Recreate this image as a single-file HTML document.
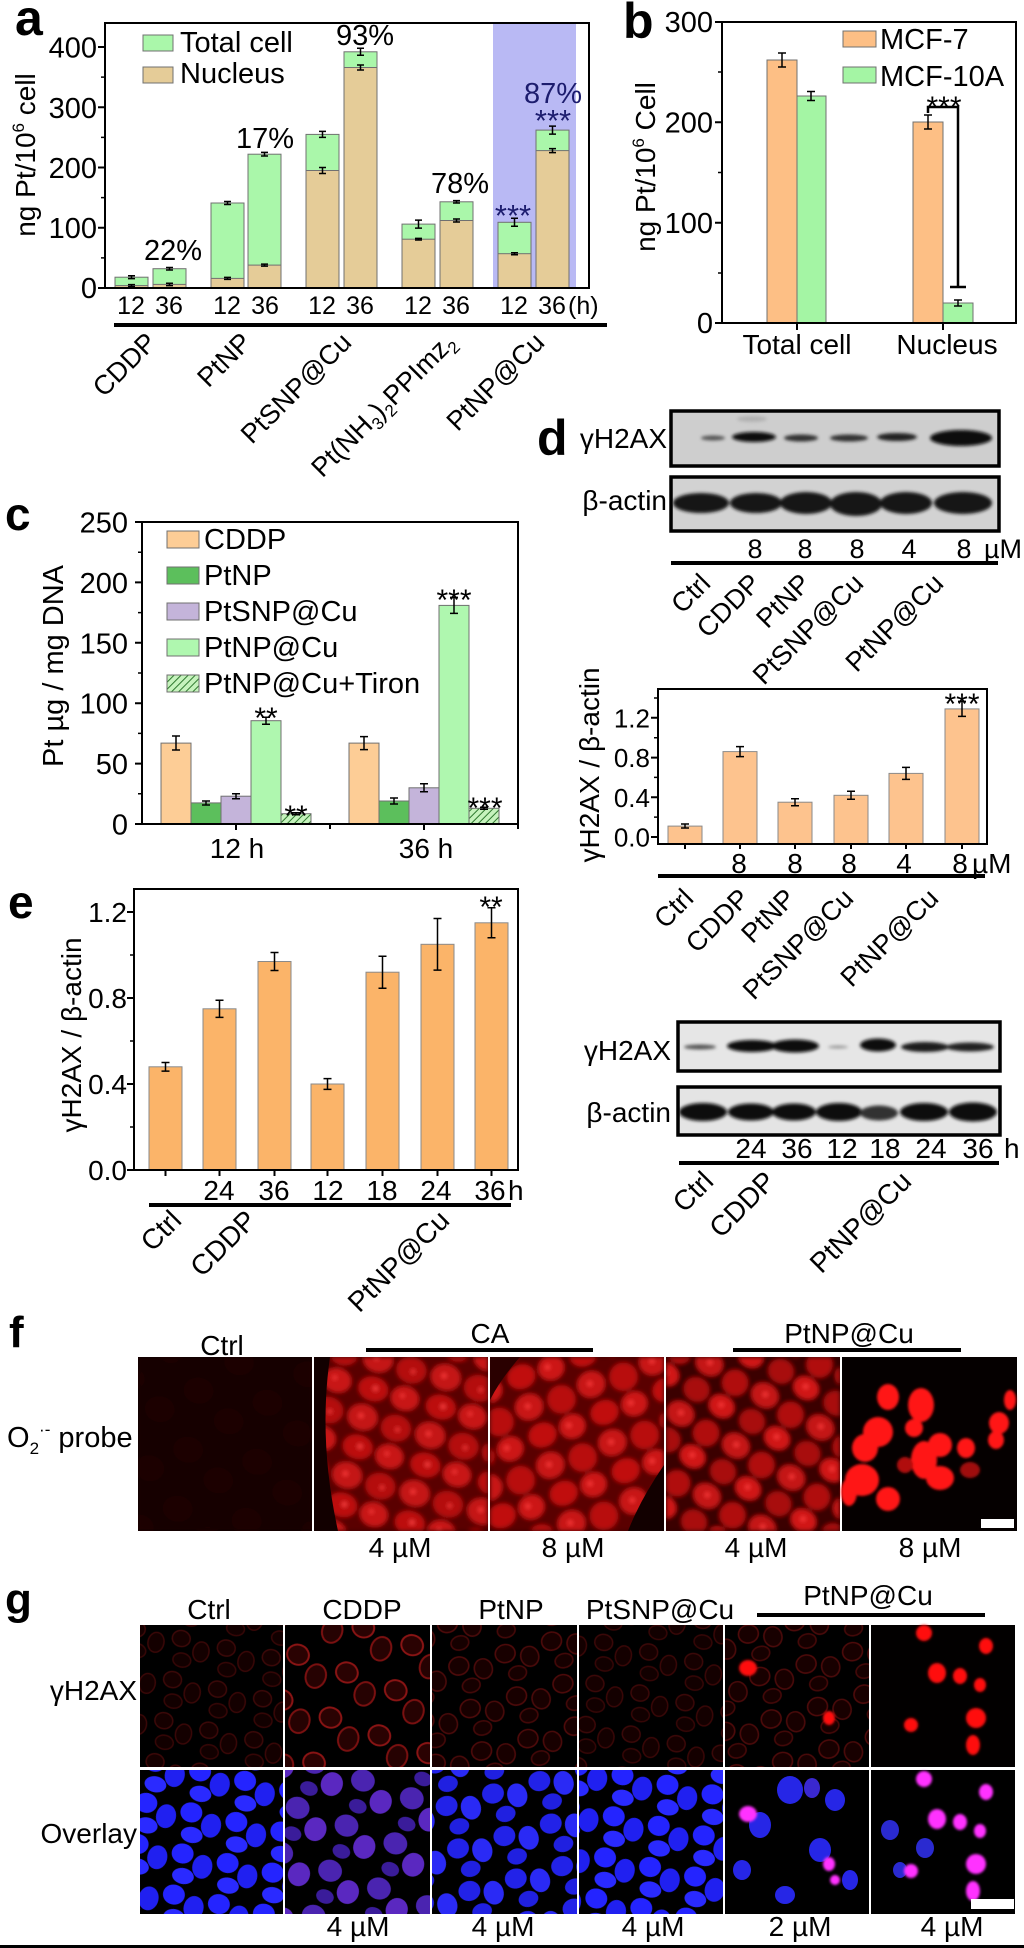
<!DOCTYPE html>
<html><head><meta charset="utf-8"><style>
html,body{margin:0;padding:0;background:#fff;}
svg{display:block;}
text{font-family:"Liberation Sans",Arial,sans-serif;fill:#000;}
</style></head><body>
<svg width="1024" height="1948" viewBox="0 0 1024 1948" xmlns="http://www.w3.org/2000/svg">
<defs>
<pattern id="hatch" patternUnits="userSpaceOnUse" width="5" height="5" patternTransform="rotate(45)">
<rect width="5" height="5" fill="#c6f3bd"/><line x1="0" y1="0" x2="0" y2="5" stroke="#2f7a2f" stroke-width="2"/></pattern>
<filter id="bl" x="-30%" y="-100%" width="160%" height="300%"><feGaussianBlur stdDeviation="1.6"/></filter>
<filter id="bl2"><feGaussianBlur stdDeviation="1.2"/></filter>
<filter id="bl3" x="0" y="0" width="1" height="1"><feGaussianBlur stdDeviation="2"/></filter>
<pattern id="cellA" patternUnits="userSpaceOnUse" width="70" height="60" patternTransform="rotate(15)">
<rect width="70" height="60" fill="#5a0303"/>
<ellipse cx="17" cy="15" rx="15" ry="13" fill="#c41313"/><ellipse cx="52" cy="17" rx="15" ry="13" fill="#b41010"/>
<ellipse cx="20" cy="45" rx="15" ry="12" fill="#bc1111"/><ellipse cx="53" cy="46" rx="14" ry="12" fill="#c81414"/>
<circle cx="15" cy="14" r="2.5" fill="#ff3a3a"/><circle cx="54" cy="18" r="2" fill="#ff3a3a"/><circle cx="22" cy="44" r="2.5" fill="#ff4040"/><circle cx="50" cy="44" r="2" fill="#ff3a3a"/></pattern>
<pattern id="cellA2" patternUnits="userSpaceOnUse" width="66" height="62" patternTransform="rotate(-20)">
<rect width="66" height="62" fill="#5a0303"/>
<ellipse cx="16" cy="15" rx="14" ry="13" fill="#c81313"/><ellipse cx="49" cy="19" rx="14" ry="14" fill="#b81010"/>
<ellipse cx="19" cy="46" rx="14" ry="12" fill="#c01111"/><ellipse cx="50" cy="48" rx="13" ry="12" fill="#cc1414"/>
<circle cx="15" cy="14" r="2.5" fill="#ff3a3a"/><circle cx="47" cy="46" r="2.5" fill="#ff3a3a"/></pattern>
<pattern id="cellB" patternUnits="userSpaceOnUse" width="64" height="58" patternTransform="rotate(30)">
<rect width="64" height="58" fill="#3a0000"/>
<ellipse cx="16" cy="14" rx="14" ry="12" fill="#c41212"/><ellipse cx="48" cy="18" rx="13" ry="13" fill="#b00e0e"/>
<ellipse cx="18" cy="43" rx="13" ry="12" fill="#a80d0d"/><ellipse cx="48" cy="45" rx="13" ry="11" fill="#d01616"/>
<circle cx="16" cy="13" r="2.5" fill="#ff3a3a"/><circle cx="47" cy="44" r="2.5" fill="#ff3a3a"/></pattern>
<pattern id="cellC" patternUnits="userSpaceOnUse" width="70" height="60" patternTransform="rotate(10)">
<rect width="70" height="60" fill="#120101"/>
<ellipse cx="17" cy="15" rx="15" ry="13" fill="#1e0303"/><ellipse cx="52" cy="40" rx="15" ry="13" fill="#1c0303"/></pattern>
<pattern id="nucB" patternUnits="userSpaceOnUse" width="46" height="42" patternTransform="rotate(12)">
<rect width="46" height="42" fill="#000"/>
<ellipse cx="12" cy="11" rx="11" ry="10" fill="#2424ff"/><ellipse cx="34" cy="20" rx="10" ry="12" fill="#2020f0"/><ellipse cx="17" cy="33" rx="11" ry="8" fill="#2a2aff"/></pattern>
<pattern id="nucB2" patternUnits="userSpaceOnUse" width="48" height="44" patternTransform="rotate(-15)">
<rect width="48" height="44" fill="#000"/>
<ellipse cx="12" cy="12" rx="11" ry="10" fill="#2222e8"/><ellipse cx="35" cy="20" rx="10" ry="12" fill="#2a2af5"/><ellipse cx="19" cy="35" rx="10" ry="8" fill="#2020e0"/></pattern>
<pattern id="nucP" patternUnits="userSpaceOnUse" width="52" height="48" patternTransform="rotate(20)">
<rect width="52" height="48" fill="#000"/>
<ellipse cx="14" cy="13" rx="12" ry="11" fill="#4a24b0"/><ellipse cx="38" cy="27" rx="11" ry="12" fill="#5a28c0"/><ellipse cx="18" cy="39" rx="9" ry="7" fill="#3a1c9a"/></pattern>
<pattern id="ringD" patternUnits="userSpaceOnUse" width="46" height="42" patternTransform="rotate(12)">
<rect width="46" height="42" fill="#000"/>
<ellipse cx="12" cy="11" rx="9" ry="8" fill="#160000" stroke="#3c0808" stroke-width="1.5"/><ellipse cx="34" cy="20" rx="8" ry="10" fill="#140000" stroke="#3a0707" stroke-width="1.5"/><ellipse cx="17" cy="32" rx="9" ry="7" fill="#120000" stroke="#360606" stroke-width="1.5"/></pattern>
<pattern id="ringM" patternUnits="userSpaceOnUse" width="52" height="48" patternTransform="rotate(20)">
<rect width="52" height="48" fill="#000"/>
<ellipse cx="14" cy="13" rx="11" ry="10" fill="#2a0202" stroke="#8a1414" stroke-width="2"/><ellipse cx="38" cy="27" rx="10" ry="12" fill="#260202" stroke="#7a1010" stroke-width="2"/></pattern>
<pattern id="ringP" patternUnits="userSpaceOnUse" width="48" height="44" patternTransform="rotate(-15)">
<rect width="48" height="44" fill="#000"/>
<ellipse cx="12" cy="12" rx="10" ry="9" fill="#180000" stroke="#4e0a0a" stroke-width="1.6"/><ellipse cx="35" cy="21" rx="9" ry="10" fill="#180000" stroke="#4a0a0a" stroke-width="1.6"/><ellipse cx="19" cy="34" rx="9" ry="7" fill="#160000" stroke="#440808" stroke-width="1.6"/></pattern>
</defs>
<rect width="1024" height="1948" fill="#fff"/>

<!-- ================= PANEL A ================= -->
<rect x="493" y="23" width="83" height="265" fill="#b9b9f4"/>
<g stroke="#707070" stroke-width="1">
<rect x="115" y="277.2" width="33" height="10.8" fill="#aaf7aa"/><rect x="115" y="285.6" width="33" height="2.4" fill="#e5cc98"/>
<rect x="153" y="268.7" width="33" height="19.3" fill="#aaf7aa"/><rect x="153" y="284.4" width="33" height="3.6" fill="#e5cc98"/>
<rect x="211" y="203" width="33" height="85" fill="#aaf7aa"/><rect x="211" y="278.4" width="33" height="9.6" fill="#e5cc98"/>
<rect x="248" y="154.2" width="33" height="133.8" fill="#aaf7aa"/><rect x="248" y="265.1" width="33" height="22.9" fill="#e5cc98"/>
<rect x="306" y="134.4" width="33" height="153.6" fill="#aaf7aa"/><rect x="306" y="170.5" width="33" height="117.5" fill="#e5cc98"/>
<rect x="344" y="51.8" width="33" height="236.2" fill="#aaf7aa"/><rect x="344" y="67.5" width="33" height="220.5" fill="#e5cc98"/>
<rect x="402" y="224.1" width="33" height="63.9" fill="#aaf7aa"/><rect x="402" y="239.2" width="33" height="48.8" fill="#e5cc98"/>
<rect x="440" y="201.8" width="33" height="86.2" fill="#aaf7aa"/><rect x="440" y="220.5" width="33" height="67.5" fill="#e5cc98"/>
<rect x="498" y="222.3" width="33" height="65.7" fill="#aaf7aa"/><rect x="498" y="253.7" width="33" height="34.3" fill="#e5cc98"/>
<rect x="536" y="130.1" width="33" height="157.9" fill="#aaf7aa"/><rect x="536" y="150.6" width="33" height="137.4" fill="#e5cc98"/>
</g>
<g stroke="#000" stroke-width="1.5" fill="none">
<path d="M128 275.8H135M131.5 275.8V278.6M128 278.6H135 M128 284.6H135M131.5 284.6V286.6M128 286.6H135"/>
<path d="M166 267.5H173M169.5 267.5V270M166 270H173 M166 283.2H173M169.5 283.2V285.6M166 285.6H173"/>
<path d="M224 201.5H231M227.5 201.5V204.5M224 204.5H231 M224 277.4H231M227.5 277.4V279.4M224 279.4H231"/>
<path d="M261 152.4H268M264.5 152.4V156M261 156H268 M261 264.1H268M264.5 264.1V266.1M261 266.1H268"/>
<path d="M319 131.4H326M322.5 131.4V137.4M319 137.4H326 M319 167.5H326M322.5 167.5V173.5M319 173.5H326"/>
<path d="M357 48.3H364M360.5 48.3V55.3M357 55.3H364 M357 65H364M360.5 65V70M357 70H364"/>
<path d="M415 220.1H422M418.5 220.1V228.1M415 228.1H422 M415 238.4H422M418.5 238.4V240M415 240H422"/>
<path d="M453 200.6H460M456.5 200.6V203M453 203H460 M453 219H460M456.5 219V222M453 222H460"/>
<path d="M511 218.3H518M514.5 218.3V226.3M511 226.3H518 M511 252.7H518M514.5 252.7V254.7M511 254.7H518"/>
<path d="M549 126.1H556M552.5 126.1V134.1M549 134.1H556 M549 148.6H556M552.5 148.6V152.6M549 152.6H556"/>
</g>
<rect x="105" y="23" width="484" height="265" fill="none" stroke="#000" stroke-width="2"/>
<g stroke="#000" stroke-width="2">
<path d="M98 47H105M98 107.25H105M98 167.5H105M98 227.75H105M98 288H105"/>
<path d="M101 77.1H105M101 137.4H105M101 197.6H105M101 257.9H105" stroke-width="1.5"/>
</g>
<g font-size="29" text-anchor="end">
<text x="97" y="57.5">400</text><text x="97" y="118">300</text><text x="97" y="178">200</text><text x="97" y="238">100</text><text x="97" y="298">0</text>
</g>
<text x="15" y="35" font-size="50" font-weight="bold">a</text>
<text transform="translate(35,155) rotate(-90)" text-anchor="middle" font-size="28">ng Pt/10<tspan font-size="17" dy="-11">6</tspan><tspan dy="11"> cell</tspan></text>
<rect x="143" y="35" width="30" height="16" fill="#aaf7aa" stroke="#707070"/>
<rect x="143" y="67" width="30" height="16" fill="#e5cc98" stroke="#707070"/>
<text x="180" y="52" font-size="29">Total cell</text>
<text x="180" y="83" font-size="29">Nucleus</text>
<g font-size="29" text-anchor="middle">
<text x="173" y="260">22%</text><text x="265" y="148">17%</text><text x="365" y="45">93%</text><text x="460" y="193">78%</text>
<text x="553" y="103" style="fill:#1c1c6e">87%</text>
</g>
<g font-size="31" text-anchor="middle">
<text x="553" y="131" style="fill:#1c1c6e">***</text>
<text x="513" y="226" style="fill:#1c1c6e">***</text>
</g>
<g font-size="25" text-anchor="middle">
<text x="131" y="314">12</text><text x="169" y="314">36</text>
<text x="227" y="314">12</text><text x="265" y="314">36</text>
<text x="322" y="314">12</text><text x="360" y="314">36</text>
<text x="418" y="314">12</text><text x="456" y="314">36</text>
<text x="514" y="314">12</text><text x="552" y="314">36</text>
</g>
<text x="568" y="314" font-size="25">(h)</text>
<rect x="114" y="323" width="493" height="4" fill="#000"/>
<g font-size="27" text-anchor="end">
<text transform="translate(158,344) rotate(-45)">CDDP</text>
<text transform="translate(253,344) rotate(-45)">PtNP</text>
<text transform="translate(353,344) rotate(-45)">PtSNP@Cu</text>
<text transform="translate(457,344) rotate(-45)">Pt(NH<tspan font-size="17" dy="6">3</tspan><tspan dy="-6">)</tspan><tspan font-size="17" dy="6">2</tspan><tspan dy="-6">PPImz</tspan><tspan font-size="17" dy="6">2</tspan></text>
<text transform="translate(546,344) rotate(-45)">PtNP@Cu</text>
</g>

<!-- ================= PANEL B ================= -->
<g stroke="#707070" stroke-width="1">
<rect x="767" y="60" width="30" height="263" fill="#fdbf85"/>
<rect x="797" y="96" width="29" height="227" fill="#a4f5a4"/>
<rect x="913" y="122" width="30" height="201" fill="#fdbf85"/>
<rect x="943" y="303" width="30" height="20" fill="#a4f5a4"/>
</g>
<g stroke="#000" stroke-width="1.5" fill="none">
<path d="M778 53H786M782 53V67M778 67H786"/>
<path d="M807 91.5H815M811 91.5V100.5M807 100.5H815"/>
<path d="M924 115H932M928 115V129M924 129H932"/>
<path d="M954 300H962M958 300V306M954 306H962"/>
</g>
<path d="M928 113V107H958V287M950 287H966" stroke="#000" stroke-width="2.5" fill="none"/>
<text x="944" y="117" font-size="30" text-anchor="middle">***</text>
<rect x="722" y="22" width="294" height="301" fill="none" stroke="#000" stroke-width="2"/>
<g stroke="#000" stroke-width="2">
<path d="M715 22H722M715 122.3H722M715 222.7H722M715 323H722"/>
<path d="M718 72H722M718 172.5H722M718 273H722" stroke-width="1.5"/>
<path d="M797 323V330M943 323V330"/>
</g>
<g font-size="29" text-anchor="end">
<text x="713" y="32">300</text><text x="713" y="132.5">200</text><text x="713" y="233">100</text><text x="713" y="333">0</text>
</g>
<text x="623" y="38" font-size="50" font-weight="bold">b</text>
<text transform="translate(655,167) rotate(-90)" text-anchor="middle" font-size="28">ng Pt/10<tspan font-size="17" dy="-11">6</tspan><tspan dy="11"> Cell</tspan></text>
<rect x="843" y="31" width="33" height="16" fill="#fdbf85" stroke="#707070"/>
<rect x="843" y="67" width="33" height="16" fill="#a4f5a4" stroke="#707070"/>
<text x="880" y="49" font-size="29">MCF-7</text>
<text x="880" y="86" font-size="29">MCF-10A</text>
<text x="797" y="354" font-size="28" text-anchor="middle">Total cell</text>
<text x="947" y="354" font-size="28" text-anchor="middle">Nucleus</text>

<!-- ================= PANEL C ================= -->
<g stroke="#707070" stroke-width="1">
<rect x="161" y="743.1" width="30" height="80.9" fill="#fdcd96"/>
<rect x="191" y="802.9" width="30" height="21.1" fill="#5cbf5c"/>
<rect x="221" y="796.2" width="30" height="27.8" fill="#c4b4da"/>
<rect x="251" y="720.7" width="30" height="103.3" fill="#aff7af"/>
<rect x="281" y="813.7" width="30" height="10.3" fill="url(#hatch)"/>
<rect x="349" y="743.1" width="30" height="80.9" fill="#fdcd96"/>
<rect x="379" y="801" width="30" height="23" fill="#5cbf5c"/>
<rect x="409" y="787.8" width="30" height="36.2" fill="#c4b4da"/>
<rect x="439" y="605.4" width="30" height="218.6" fill="#aff7af"/>
<rect x="469" y="808.3" width="30" height="15.7" fill="url(#hatch)"/>
</g>
<g stroke="#000" stroke-width="1.5" fill="none">
<path d="M172 736H180M176 736V750M172 750H180"/>
<path d="M202 801H210M206 801V805M202 805H210"/>
<path d="M232 793.7H240M236 793.7V798.7M232 798.7H240"/>
<path d="M262 717.2H270M266 717.2V724.2M262 724.2H270"/>
<path d="M292 812.7H300M296 812.7V814.7M292 814.7H300"/>
<path d="M360 736.6H368M364 736.6V749.6M360 749.6H368"/>
<path d="M390 798H398M394 798V804M390 804H398"/>
<path d="M420 783.8H428M424 783.8V791.8M420 791.8H428"/>
<path d="M450 597.4H458M454 597.4V613.4M450 613.4H458"/>
<path d="M480 807.3H488M484 807.3V809.3M480 809.3H488"/>
</g>
<g font-size="30" text-anchor="middle">
<text x="266" y="728">**</text><text x="296" y="826">**</text><text x="454" y="610">***</text><text x="485" y="818">***</text>
</g>
<rect x="142" y="522" width="376" height="302" fill="none" stroke="#000" stroke-width="2"/>
<g stroke="#000" stroke-width="2">
<path d="M135 522H142M135 582.4H142M135 642.8H142M135 703.2H142M135 763.6H142M135 824H142"/>
<path d="M138 552.2H142M138 612.6H142M138 673H142M138 733.4H142M138 793.8H142" stroke-width="1.5"/>
<path d="M236 824V830M330 824V829M424 824V830M518 824V829"/>
</g>
<g font-size="29" text-anchor="end">
<text x="128" y="532.5">250</text><text x="128" y="593">200</text><text x="128" y="653.5">150</text><text x="128" y="713.5">100</text><text x="128" y="774">50</text><text x="128" y="834.5">0</text>
</g>
<text x="5" y="530" font-size="46" font-weight="bold">c</text>
<text transform="translate(63,666) rotate(-90)" text-anchor="middle" font-size="29">Pt µg / mg DNA</text>
<rect x="167" y="531" width="32" height="17" fill="#fdcd96" stroke="#707070"/>
<rect x="167" y="567" width="32" height="17" fill="#5cbf5c" stroke="#707070"/>
<rect x="167" y="603" width="32" height="17" fill="#c4b4da" stroke="#707070"/>
<rect x="167" y="639" width="32" height="17" fill="#aff7af" stroke="#707070"/>
<rect x="167" y="675" width="32" height="17" fill="url(#hatch)" stroke="#707070"/>
<g font-size="29">
<text x="204" y="549">CDDP</text><text x="204" y="585">PtNP</text><text x="204" y="621">PtSNP@Cu</text><text x="204" y="657">PtNP@Cu</text><text x="204" y="693">PtNP@Cu+Tiron</text>
</g>
<g font-size="28" text-anchor="middle"><text x="237" y="858">12 h</text><text x="426" y="858">36 h</text></g>

<!-- ================= PANEL D BLOT ================= -->
<text x="537" y="455" font-size="50" font-weight="bold">d</text>
<text x="667" y="448" font-size="28" text-anchor="end">γH2AX</text>
<text x="667" y="510" font-size="28" text-anchor="end">β-actin</text>
<rect x="671" y="411" width="328" height="55" fill="#cecece" stroke="#000" stroke-width="3.5"/>
<g filter="url(#bl)">
<ellipse cx="752" cy="419" rx="15" ry="3" fill="#b2b2b2"/>
<ellipse cx="713" cy="438" rx="12" ry="2.5" fill="#555"/>
<ellipse cx="754" cy="437" rx="22" ry="5" fill="#111"/>
<ellipse cx="801" cy="438" rx="17" ry="3.5" fill="#333"/>
<ellipse cx="849" cy="438" rx="19" ry="3.5" fill="#333"/>
<ellipse cx="897" cy="437" rx="20" ry="4" fill="#222"/>
<ellipse cx="961" cy="438" rx="31" ry="8" fill="#080808"/>
</g>
<rect x="671" y="477" width="328" height="54" fill="#d2d2d2" stroke="#000" stroke-width="3.5"/>
<g filter="url(#bl)" fill="#141414">
<ellipse cx="701" cy="503" rx="28" ry="10"/><ellipse cx="756" cy="503" rx="26" ry="10"/><ellipse cx="806" cy="503" rx="26" ry="11"/>
<ellipse cx="856" cy="504" rx="26" ry="12"/><ellipse cx="906" cy="503" rx="26" ry="11"/><ellipse cx="963" cy="503" rx="29" ry="11"/>
</g>
<g font-size="27" text-anchor="middle">
<text x="755" y="558">8</text><text x="805" y="558">8</text><text x="857" y="558">8</text><text x="909" y="558">4</text><text x="964" y="558">8</text>
</g>
<text x="984" y="558" font-size="27">µM</text>
<rect x="671" y="561" width="327" height="4" fill="#000"/>
<g font-size="27" text-anchor="end">
<text transform="translate(712,585) rotate(-45)">Ctrl</text>
<text transform="translate(762,585) rotate(-45)">CDDP</text>
<text transform="translate(812,585) rotate(-45)">PtNP</text>
<text transform="translate(865,585) rotate(-45)">PtSNP@Cu</text>
<text transform="translate(945,585) rotate(-45)">PtNP@Cu</text>
</g>

<!-- ================= PANEL D BAR ================= -->
<g stroke="#8a8a8a" stroke-width="1" fill="#fdc38e">
<rect x="668" y="826.1" width="34" height="17.9"/>
<rect x="723" y="751.6" width="34" height="92.4"/>
<rect x="778" y="802.2" width="34" height="41.8"/>
<rect x="834" y="795.3" width="34" height="48.7"/>
<rect x="889" y="773.4" width="34" height="70.6"/>
<rect x="945" y="708.9" width="34" height="135.1"/>
</g>
<g stroke="#000" stroke-width="1.5" fill="none">
<path d="M681 824H689M685 824V828M681 828H689"/>
<path d="M736 746.6H744M740 746.6V756.6M736 756.6H744"/>
<path d="M791 798.7H799M795 798.7V805.7M791 805.7H799"/>
<path d="M847 791.3H855M851 791.3V799.3M847 799.3H855"/>
<path d="M902 767.4H910M906 767.4V779.4M902 779.4H910"/>
<path d="M958 701.4H966M962 701.4V716.4M958 716.4H966"/>
</g>
<text x="962" y="714" font-size="30" text-anchor="middle">***</text>
<rect x="658" y="689" width="329" height="155" fill="none" stroke="#000" stroke-width="2"/>
<g stroke="#000" stroke-width="2">
<path d="M651 837H658M651 797.3H658M651 757.6H658M651 717.8H658"/>
<path d="M654 817.1H658M654 777.4H658M654 737.7H658M654 698H658" stroke-width="1.5"/>
<path d="M685 844V849M740 844V849M795 844V849M851 844V849M906 844V849M962 844V849"/>
</g>
<g font-size="26" text-anchor="end">
<text x="650" y="846.5">0.0</text><text x="650" y="806.8">0.4</text><text x="650" y="767">0.8</text><text x="650" y="727.3">1.2</text>
</g>
<text transform="translate(599,765) rotate(-90)" text-anchor="middle" font-size="28">γH2AX / β-actin</text>
<g font-size="28" text-anchor="middle">
<text x="739" y="873">8</text><text x="795" y="873">8</text><text x="849" y="873">8</text><text x="904" y="873">4</text><text x="960" y="873">8</text>
</g>
<text x="972" y="873" font-size="28">µM</text>
<rect x="658" y="874" width="327" height="4" fill="#000"/>
<g font-size="27" text-anchor="end">
<text transform="translate(695,900) rotate(-45)">Ctrl</text>
<text transform="translate(751,900) rotate(-45)">CDDP</text>
<text transform="translate(797,900) rotate(-45)">PtNP</text>
<text transform="translate(855,900) rotate(-45)">PtSNP@Cu</text>
<text transform="translate(940,900) rotate(-45)">PtNP@Cu</text>
</g>

<!-- ================= PANEL E ================= -->
<g stroke="#8a8a8a" stroke-width="1" fill="#fbb469">
<rect x="149" y="1066.8" width="33" height="103.2"/>
<rect x="203" y="1008.8" width="33" height="161.2"/>
<rect x="258" y="961.5" width="33" height="208.5"/>
<rect x="311" y="1084" width="33" height="86"/>
<rect x="366" y="972.2" width="33" height="197.8"/>
<rect x="421" y="944.3" width="33" height="225.7"/>
<rect x="475" y="922.8" width="33" height="247.2"/>
</g>
<g stroke="#000" stroke-width="1.5" fill="none">
<path d="M161.5 1062.5H169.5M165.5 1062.5V1071.1M161.5 1071.1H169.5"/>
<path d="M215.5 1000.2H223.5M219.5 1000.2V1017.4M215.5 1017.4H223.5"/>
<path d="M270.5 952.5H278.5M274.5 952.5V970.5M270.5 970.5H278.5"/>
<path d="M323.5 1078.6H331.5M327.5 1078.6V1089.4M323.5 1089.4H331.5"/>
<path d="M378.5 956.2H386.5M382.5 956.2V988.2M378.5 988.2H386.5"/>
<path d="M433.5 918.5H441.5M437.5 918.5V970.1M433.5 970.1H441.5"/>
<path d="M487.5 907.8H495.5M491.5 907.8V937.8M487.5 937.8H495.5"/>
</g>
<text x="491" y="917" font-size="30" text-anchor="middle">**</text>
<rect x="134" y="889" width="384" height="281" fill="none" stroke="#000" stroke-width="2"/>
<g stroke="#000" stroke-width="2">
<path d="M127 1170H134M127 1084H134M127 998H134M127 912H134"/>
<path d="M130 1127H134M130 1041H134M130 955H134" stroke-width="1.5"/>
<path d="M165.5 1170V1176M219.5 1170V1176M274.5 1170V1176M327.5 1170V1176M382.5 1170V1176M437.5 1170V1176M491.5 1170V1176"/>
</g>
<g font-size="28" text-anchor="end">
<text x="127" y="1180">0.0</text><text x="127" y="1094">0.4</text><text x="127" y="1008">0.8</text><text x="127" y="922">1.2</text>
</g>
<text x="8" y="918" font-size="46" font-weight="bold">e</text>
<text transform="translate(81,1035) rotate(-90)" text-anchor="middle" font-size="28">γH2AX / β-actin</text>
<g font-size="28" text-anchor="middle">
<text x="219" y="1200">24</text><text x="274" y="1200">36</text><text x="328" y="1200">12</text><text x="382" y="1200">18</text><text x="436" y="1200">24</text><text x="490" y="1200">36</text>
</g>
<text x="508" y="1200" font-size="28">h</text>
<rect x="149" y="1203" width="362" height="4" fill="#000"/>
<g font-size="28" text-anchor="end">
<text transform="translate(183,1222) rotate(-45)">Ctrl</text>
<text transform="translate(258,1222) rotate(-45)">CDDP</text>
<text transform="translate(451,1222) rotate(-45)">PtNP@Cu</text>
</g>

<!-- ================= LOWER BLOT ================= -->
<text x="671" y="1060" font-size="28" text-anchor="end">γH2AX</text>
<text x="671" y="1122" font-size="28" text-anchor="end">β-actin</text>
<rect x="678" y="1022" width="322" height="49" fill="#e6e6e6" stroke="#000" stroke-width="3.5"/>
<g filter="url(#bl)">
<ellipse cx="700" cy="1047" rx="16" ry="2.5" fill="#555"/>
<ellipse cx="752" cy="1046" rx="25" ry="6" fill="#111"/>
<ellipse cx="795" cy="1046" rx="24" ry="6.5" fill="#0a0a0a"/>
<ellipse cx="838" cy="1047" rx="10" ry="1.5" fill="#999"/>
<ellipse cx="878" cy="1045" rx="18" ry="6.5" fill="#111"/>
<ellipse cx="925" cy="1047" rx="24" ry="5" fill="#1a1a1a"/>
<ellipse cx="970" cy="1047" rx="24" ry="4.5" fill="#222"/>
</g>
<rect x="678" y="1087" width="322" height="48" fill="#e4e4e4" stroke="#000" stroke-width="3.5"/>
<g filter="url(#bl)" fill="#111">
<ellipse cx="703" cy="1112" rx="24" ry="9"/><ellipse cx="751" cy="1112" rx="23" ry="8.5"/><ellipse cx="794" cy="1112" rx="22" ry="8.5"/>
<ellipse cx="839" cy="1112" rx="23" ry="9"/><ellipse cx="879" cy="1113" rx="19" ry="7.5" fill="#333"/><ellipse cx="924" cy="1112" rx="24" ry="9"/><ellipse cx="973" cy="1112" rx="24" ry="9.5"/>
</g>
<g font-size="28" text-anchor="middle">
<text x="751" y="1158">24</text><text x="797" y="1158">36</text><text x="842" y="1158">12</text><text x="885" y="1158">18</text><text x="931" y="1158">24</text><text x="978" y="1158">36</text>
</g>
<text x="1004" y="1158" font-size="28">h</text>
<rect x="679" y="1161" width="320" height="4" fill="#000"/>
<g font-size="28" text-anchor="end">
<text transform="translate(715,1183) rotate(-45)">Ctrl</text>
<text transform="translate(777,1183) rotate(-45)">CDDP</text>
<text transform="translate(913,1183) rotate(-45)">PtNP@Cu</text>
</g>

<!-- ================= PANEL F ================= -->
<text x="9" y="1347" font-size="44" font-weight="bold">f</text>
<g font-size="28" text-anchor="middle">
<text x="222" y="1355">Ctrl</text><text x="490" y="1343">CA</text><text x="849" y="1343">PtNP@Cu</text>
</g>
<rect x="366" y="1348" width="227" height="4" fill="#000"/>
<rect x="733" y="1348" width="228" height="4" fill="#000"/>
<text x="7" y="1447" font-size="29">O<tspan font-size="17" dy="7">2</tspan><tspan font-size="17" dy="-19">·-</tspan><tspan dy="12"> probe</tspan></text>
<rect x="138" y="1357" width="879" height="174" fill="#fff"/>
<rect x="138" y="1357" width="174" height="174" fill="#120101"/>
<rect x="138" y="1357" width="174" height="174" fill="url(#cellC)" filter="url(#bl3)"/>
<rect x="314" y="1357" width="174" height="174" fill="#3a0202"/>
<rect x="314" y="1357" width="174" height="174" fill="url(#cellA)" filter="url(#bl3)"/>
<path d="M314 1357H330Q318 1440 338 1531H314Z" fill="#120000"/>
<rect x="490" y="1357" width="174" height="174" fill="#3a0202"/>
<rect x="490" y="1357" width="174" height="174" fill="url(#cellA2)" filter="url(#bl3)"/>
<path d="M664 1465Q640 1500 628 1531H664Z" fill="#120000"/>
<path d="M490 1357H520Q500 1380 490 1400Z" fill="#2a0000"/>
<rect x="666" y="1357" width="174" height="174" fill="#2a0000"/>
<rect x="666" y="1357" width="174" height="174" fill="url(#cellB)" filter="url(#bl3)"/>
<rect x="842" y="1357" width="175" height="174" fill="#050000"/>
<g fill="#ff1616" filter="url(#bl2)">
<ellipse cx="888" cy="1397" rx="11" ry="13"/><ellipse cx="921" cy="1405" rx="13" ry="17"/><ellipse cx="878" cy="1432" rx="15" ry="15"/>
<ellipse cx="914" cy="1428" rx="9" ry="9"/><ellipse cx="865" cy="1448" rx="13" ry="14"/><ellipse cx="940" cy="1445" rx="12" ry="12"/>
<ellipse cx="924" cy="1460" rx="13" ry="19"/><ellipse cx="966" cy="1448" rx="9" ry="10"/><ellipse cx="999" cy="1423" rx="10" ry="11"/>
<ellipse cx="1010" cy="1400" rx="6" ry="10"/><ellipse cx="862" cy="1480" rx="17" ry="16"/><ellipse cx="888" cy="1499" rx="12" ry="12"/>
<ellipse cx="940" cy="1478" rx="14" ry="12"/><ellipse cx="849" cy="1492" rx="8" ry="14"/><ellipse cx="996" cy="1440" rx="8" ry="9"/>
<ellipse cx="905" cy="1465" rx="8" ry="8" fill="#b01010"/><ellipse cx="970" cy="1470" rx="10" ry="8" fill="#a00d0d"/>
</g>
<rect x="981" y="1519" width="33" height="9" fill="#fff"/>
<g font-size="28" text-anchor="middle">
<text x="400" y="1557">4 µM</text><text x="573" y="1557">8 µM</text><text x="756" y="1557">4 µM</text><text x="930" y="1557">8 µM</text>
</g>

<!-- ================= PANEL G ================= -->
<text x="5" y="1614" font-size="44" font-weight="bold">g</text>
<g font-size="28" text-anchor="middle">
<text x="209" y="1619">Ctrl</text><text x="362" y="1619">CDDP</text><text x="511" y="1619">PtNP</text><text x="660" y="1619">PtSNP@Cu</text><text x="868" y="1605">PtNP@Cu</text>
</g>
<rect x="757" y="1613" width="228" height="4" fill="#000"/>
<text x="137" y="1700" font-size="28" text-anchor="end">γH2AX</text>
<text x="137" y="1843" font-size="28" text-anchor="end">Overlay</text>
<rect x="140" y="1625" width="875" height="289" fill="#fff"/>
<!-- row 1 -->
<rect x="140" y="1625" width="143" height="142" fill="url(#ringD)"/>
<rect x="285" y="1625" width="145" height="142" fill="url(#ringM)"/>
<rect x="432" y="1625" width="145" height="142" fill="url(#ringP)"/>
<rect x="579" y="1625" width="144" height="142" fill="url(#ringD)"/>
<rect x="725" y="1625" width="144" height="142" fill="url(#ringP)"/>
<rect x="871" y="1625" width="144" height="142" fill="#020000"/>
<g fill="#ff1010" filter="url(#bl2)">
<ellipse cx="748" cy="1668" rx="9" ry="8"/><ellipse cx="829" cy="1718" rx="6" ry="7"/>
<ellipse cx="924" cy="1633" rx="8" ry="8"/><ellipse cx="986" cy="1646" rx="7" ry="8"/><ellipse cx="937" cy="1673" rx="9" ry="10"/>
<ellipse cx="960" cy="1676" rx="7" ry="8"/><ellipse cx="980" cy="1685" rx="6" ry="7"/><ellipse cx="976" cy="1718" rx="10" ry="10"/>
<ellipse cx="911" cy="1725" rx="7" ry="7"/><ellipse cx="973" cy="1745" rx="7" ry="10"/>
</g>
<!-- row 2 -->
<rect x="140" y="1770" width="143" height="144" fill="url(#nucB)"/>
<rect x="285" y="1770" width="145" height="144" fill="url(#nucP)"/>
<rect x="432" y="1770" width="145" height="144" fill="url(#nucB2)"/>
<rect x="579" y="1770" width="144" height="144" fill="url(#nucB)"/>
<rect x="725" y="1770" width="144" height="144" fill="#000"/>
<g fill="#2626e6">
<ellipse cx="790" cy="1790" rx="13" ry="14"/><ellipse cx="835" cy="1800" rx="10" ry="11"/><ellipse cx="760" cy="1825" rx="11" ry="13"/>
<ellipse cx="820" cy="1850" rx="11" ry="12"/><ellipse cx="742" cy="1870" rx="9" ry="10"/><ellipse cx="785" cy="1895" rx="10" ry="9"/>
<ellipse cx="850" cy="1880" rx="8" ry="10"/><ellipse cx="812" cy="1788" rx="8" ry="10" fill="#3a28d0"/>
</g>
<g fill="#ff30ff" filter="url(#bl2)">
<ellipse cx="748" cy="1814" rx="9" ry="8"/><ellipse cx="829" cy="1864" rx="6" ry="7"/><ellipse cx="835" cy="1880" rx="5" ry="5"/>
</g>
<rect x="871" y="1770" width="144" height="144" fill="#000"/>
<g fill="#2a2ad0"><ellipse cx="890" cy="1830" rx="9" ry="10"/><ellipse cx="925" cy="1848" rx="9" ry="10"/><ellipse cx="900" cy="1870" rx="7" ry="8"/></g>
<g fill="#ff30ff" filter="url(#bl2)">
<ellipse cx="924" cy="1779" rx="8" ry="8"/><ellipse cx="986" cy="1792" rx="7" ry="8"/><ellipse cx="937" cy="1819" rx="9" ry="10"/>
<ellipse cx="960" cy="1822" rx="7" ry="8"/><ellipse cx="980" cy="1831" rx="6" ry="7"/><ellipse cx="976" cy="1864" rx="10" ry="10"/>
<ellipse cx="911" cy="1871" rx="7" ry="7"/><ellipse cx="973" cy="1891" rx="7" ry="10"/>
</g>
<rect x="971" y="1899" width="43" height="10" fill="#fff"/>
<g font-size="28" text-anchor="middle">
<text x="358" y="1936">4 µM</text><text x="503" y="1936">4 µM</text><text x="653" y="1936">4 µM</text><text x="800" y="1936">2 µM</text><text x="952" y="1936">4 µM</text>
</g>
<rect x="0" y="1945" width="1024" height="3" fill="#000"/>
</svg>
</body></html>
